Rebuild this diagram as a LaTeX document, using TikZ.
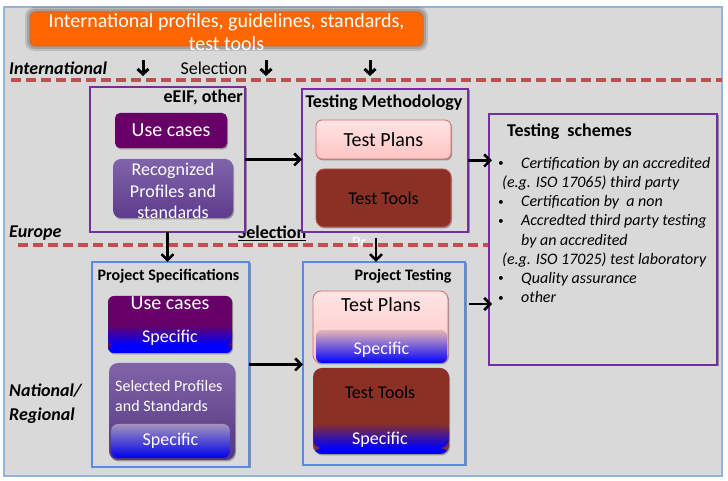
\documentclass[tikz,border=0pt]{standalone}
\usepackage{fontspec}
\setmainfont{Carlito}
\usetikzlibrary{arrows.meta,shadows,calc}
\definecolor{bg}{HTML}{D9D9D9}
\definecolor{framec}{HTML}{95B3D7}
\definecolor{orangec}{HTML}{FF6600}
\definecolor{orangeb}{HTML}{D8641E}
\definecolor{purpb}{HTML}{7030A0}
\definecolor{blueb}{HTML}{5A8AE6}
\definecolor{ucp}{HTML}{660066}
\definecolor{rectop}{HTML}{8064AA}
\definecolor{recbot}{HTML}{5E3C8C}
\definecolor{tpink1}{HTML}{FFE4E4}
\definecolor{tpink2}{HTML}{FFC4C4}
\definecolor{tpinkb}{HTML}{D46A6A}
\definecolor{ttred}{HTML}{8A3025}
\definecolor{ttredb}{HTML}{C05050}
\definecolor{dashred}{HTML}{C0504D}
\definecolor{spblue}{HTML}{0000FF}
\definecolor{spstop}{HTML}{A494BA}
\definecolor{spsmid}{HTML}{4B3C90}
\definecolor{tpstop}{HTML}{E6B6B6}
\definecolor{tpsmid}{HTML}{B8A8E8}
\newcommand\smallbul{\makebox[24pt][l]{\hspace*{1pt}\raisebox{1.6pt}{\fontsize{11}{11}\selectfont\textbullet}}}
\begin{document}
\begin{tikzpicture}[x=1pt,y=1pt,
  box/.style={anchor=south west, inner sep=0pt, outer sep=0pt},
  region/.style={box, draw=purpb, line width=1.4pt, fill=bg,
    drop shadow={shadow xshift=1.5pt, shadow yshift=-1.5pt, opacity=.35, fill=black}},
  pregion/.style={region, draw=blueb},
  glowy/.style={drop shadow={shadow xshift=1pt, shadow yshift=-1.5pt, opacity=.3, fill=black}},
  inner/.style={box, rounded corners=6pt, glowy},
  arr/.style={draw=black, line width=2.5pt, -{Straight Barb[length=6pt,width=12pt]}},
  sarr/.style={draw=black, line width=3pt, -{Straight Barb[length=5pt,width=11pt]}},
  dashline/.style={draw=dashred, line width=3.5pt, dash pattern=on 10pt off 5pt},
  t20/.style={font=\fontsize{20}{24}\selectfont},
  t18/.style={font=\fontsize{18}{21.6}\selectfont},
  t16/.style={font=\fontsize{16}{19.6}\selectfont},
  b18/.style={font=\fontsize{18}{21.6}\selectfont\bfseries},
  b16/.style={font=\fontsize{16}{19}\selectfont\bfseries},
  bi18/.style={font=\fontsize{18}{24}\selectfont\bfseries\itshape},
  wt/.style={text=white, inner sep=0pt}
]
\useasboundingbox (0,0) rectangle (728,481);
% frame
\node[box, draw=framec, line width=1.5pt, fill=bg, minimum width=718pt, minimum height=469pt] (frame) at (4,5) {};
% orange box with glow
\fill[black, opacity=.12, rounded corners=9pt] (25,430) rectangle (428,474);
\fill[black, opacity=.15, rounded corners=8pt] (27,432) rectangle (426,472);
\node[box, rounded corners=6pt, fill=orangec, draw=orangeb, line width=1pt, minimum width=393pt, minimum height=34pt] (orange) at (30,435) {};
\node[wt, align=center, font=\fontsize{20}{23}\selectfont] (orangetext) at (226.5,448.5) {International profiles, guidelines, standards,\\test tools};
% level labels
\node[bi18, anchor=west, inner sep=0pt] (intl) at (9,413) {International};
\node[t18, inner sep=0pt] (sel1) at (214,413) {Selection};
\coordinate (a1s) at (143,421); \coordinate (a1e) at (143,405);
\coordinate (a2s) at (266,421); \coordinate (a2e) at (266,405);
\coordinate (a3s) at (370,421); \coordinate (a3e) at (370,405);
\draw[sarr] (a1s) -- (a1e);
\draw[sarr] (a2s) -- (a2e);
\draw[sarr] (a3s) -- (a3e);
\draw[dashline] (11,401) -- (722,401);
% Pr (partly hidden)
\begin{scope}
\clip (340,236) rectangle (400,250);
\node[t16, wt, anchor=base west] (pr) at (352,233) {Pr};
\end{scope}
\draw[dashline] (18,236) -- (722,236);
\node[bi18, anchor=west, inner sep=0pt] (europe) at (9,247.5) {Europe};
\node[b18, inner sep=0pt] (sel2) at (272,248) {\underline{Selection}};
\node[bi18, anchor=west, inner sep=0pt, align=left] (natl) at (9,77) {National/\\Regional};
% European level
\node[region, minimum width=155pt, minimum height=145pt] (eeif) at (90,249) {};
\node[b18, anchor=east, inner sep=0pt] (eeiflbl) at (243,384) {eEIF, other};
\node[inner, rounded corners=5pt, fill=ucp, minimum width=112pt, minimum height=35pt] (uc) at (115,333) {};
\node[t20, wt] (uctext) at (uc.center) {Use cases};
\node[inner, rounded corners=8pt, top color=rectop, bottom color=recbot, minimum width=120pt, minimum height=59pt] (recog) at (113,263) {};
\node[t18, wt, align=center, font=\fontsize{18}{21.3}\selectfont] (recogtext) at (173,290) {Recognized\\Profiles and\\standards};
\node[region, minimum width=166pt, minimum height=143pt] (tm) at (302,249) {};
\node[b18, inner sep=0pt] (tmlbl) at (384,378) {Testing Methodology};
\node[inner, top color=tpink1, bottom color=tpink2, draw=tpinkb, line width=.8pt, minimum width=135pt, minimum height=39pt] (tplan) at (316,322) {};
\node[t20, inner sep=0pt] (tplantext) at (tplan.center) {Test Plans};
\node[inner, rounded corners=8pt, fill=ttred, draw=ttredb, line width=.8pt, minimum width=135pt, minimum height=58pt] (ttool) at (316,254) {};
\node[t18, inner sep=0pt] (ttooltext) at (ttool.center) {Test Tools};
% Testing schemes
\node[region, minimum width=228pt, minimum height=251pt] (ts) at (489,116) {};
\node[b18, anchor=west, inner sep=0pt] (tslbl) at (507,349) {Testing\ \ schemes};
\node[font=\fontsize{16}{19.2}\selectfont\itshape, align=left, anchor=north west, inner sep=0pt] (tslist) at (497,324) {%
\smallbul Certification by an accredited\\
\hspace*{5pt}(e.g. ISO 17065) third party\\
\smallbul Certification by\ \ a non\\
\smallbul Accredted third party testing\\
\hspace*{24pt}by an accredited\\
\hspace*{5pt}(e.g. ISO 17025) test laboratory\\
\smallbul Quality assurance\\
\smallbul other};
% National level
\node[pregion, minimum width=157pt, minimum height=205pt] (ps) at (92,14) {};
\node[b16, inner sep=0pt] (pslbl) at (168.5,204.3) {Project Specifications};
\node[inner, fill=ucp, minimum width=124pt, minimum height=57pt,
  path picture={
    \fill[spblue] (path picture bounding box.south west) rectangle ($(path picture bounding box.south east)+(0,8)$);
    \shade[top color=ucp, bottom color=spblue] ($(path picture bounding box.south west)+(0,8)$) rectangle ($(path picture bounding box.south east)+(0,28)$);
  }] (ucs) at (108,128) {};
\node[t20, wt] (ucstext) at (170,177.7) {Use cases};
\node[t18, wt] (ucsspec) at (170,143.7) {Specific};
\node[inner, rounded corners=9pt, top color=rectop, bottom color=recbot!90!black, minimum width=126pt, minimum height=97pt] (sps) at (109,21) {};
\node[box, rounded corners=7pt, top color=spstop, middle color=spsmid, bottom color=spblue!92!black, minimum width=119pt, minimum height=34pt] (spsb) at (111,23) {};
\node[t16, wt, align=left, anchor=west] (spstext) at (115,84.7) {Selected Profiles\\and Standards};
\node[t18, wt] (spsspec) at (spsb.center) {Specific};
\node[pregion, minimum width=162pt, minimum height=203pt] (pt) at (303,16) {};
\node[b16, inner sep=0pt] (ptlbl) at (403,204.3) {Project Testing};
\node[inner, top color=tpink1, bottom color=tpink2, draw=tpinkb, line width=.8pt, rounded corners=8pt, minimum width=135pt, minimum height=72pt] (tps) at (313,118) {};
\node[box, rounded corners=6pt, top color=tpstop, middle color=tpsmid, bottom color=spblue, minimum width=131pt, minimum height=33pt] (tpsb) at (316,118) {};
\node[t20, inner sep=0pt] (tpstext) at (381,176) {Test Plans};
\node[t18, wt] (tpsspec) at (381.5,131.7) {Specific};
\node[inner, rounded corners=9pt, fill=ttred, minimum width=136pt, minimum height=86pt,
  path picture={
    \fill[spblue] (path picture bounding box.south west) rectangle ($(path picture bounding box.south east)+(0,6)$);
    \shade[top color=ttred, bottom color=spblue] ($(path picture bounding box.south west)+(0,6)$) rectangle ($(path picture bounding box.south east)+(0,31)$);
  }] (tts) at (313,27) {};
\node[t18, inner sep=0pt] (ttstext) at (380,88.3) {Test Tools};
\node[t18, wt] (ttsspec) at (380,41.7) {Specific};
% connectors
\coordinate (ptarr) at (376,243);
\coordinate (y177) at (0,177);
\draw[arr] (eeif.east) -- (eeif.east -| tm.west);
\draw[arr] (tm.east) -- ($(tm.east -| ts.west)+(3,0)$);
\draw[arr] (eeif.south) -- (eeif.south |- ps.north);
\draw[arr] (ptarr) -- (ptarr |- pt.north);
\draw[arr] (ps.east) -- (ps.east -| pt.west);
\draw[arr] ($(pt.east |- y177)+(4,0)$) -- ($(ts.west |- y177)+(3,0)$);
\end{tikzpicture}
\end{document}
